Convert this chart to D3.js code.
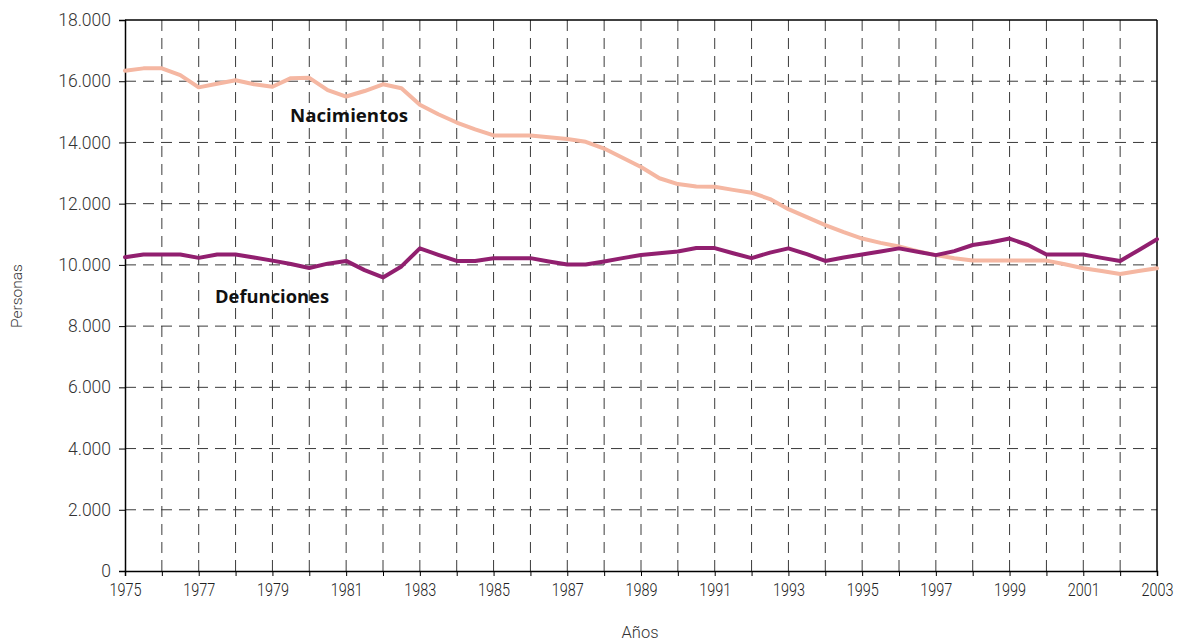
<!DOCTYPE html>
<html>
<head>
<meta charset="utf-8">
<script src="https://cdn.jsdelivr.net/npm/d3@7"></script>
<style>
  html, body { margin: 0; padding: 0; background: #fff; }
  svg { display: block; }
</style>
</head>
<body>
<svg id="chart" width="1186" height="642"></svg>
<script>
// ---------- data ----------
const periods = [
  1975, 1975.5, 1976, 1976.5, 1977, 1977.5, 1978, 1978.5, 1979, 1979.5,
  1980, 1980.5, 1981, 1981.5, 1982, 1982.5, 1983, 1983.5, 1984, 1984.5,
  1985, 1985.5, 1986, 1986.5, 1987, 1987.5, 1988, 1988.5, 1989, 1989.5,
  1990, 1990.5, 1991, 1991.5, 1992, 1992.5, 1993, 1993.5, 1994, 1994.5,
  1995, 1995.5, 1996, 1996.5, 1997, 1997.5, 1998, 1998.5, 1999, 1999.5,
  2000, 2000.5, 2001, 2001.5, 2002, 2002.5, 2003
];
const nacimientos = [
  16340, 16420, 16420, 16200, 15800, 15920, 16030, 15900, 15820, 16100,
  16110, 15710, 15500, 15680, 15900, 15770, 15230, 14920, 14650, 14430,
  14230, 14230, 14230, 14170, 14110, 14020, 13800, 13500, 13200, 12830,
  12640, 12560, 12550, 12450, 12360, 12150, 11820, 11560, 11300, 11070,
  10860, 10720, 10600, 10450, 10320, 10220, 10140, 10140, 10140, 10140,
  10140, 10020, 9890, 9800, 9700, 9800, 9890
];
const defunciones = [
  10250, 10340, 10340, 10340, 10230, 10340, 10340, 10240, 10140, 10030,
  9900, 10040, 10130, 9830, 9590, 9950, 10540, 10330, 10130, 10130,
  10220, 10220, 10220, 10110, 10010, 10010, 10110, 10220, 10320, 10380,
  10440, 10550, 10550, 10380, 10220, 10400, 10540, 10350, 10130, 10240,
  10340, 10440, 10540, 10430, 10320, 10450, 10650, 10740, 10860, 10650,
  10340, 10340, 10340, 10230, 10130, 10480, 10840
];
const yearTicks = [1975, 1976, 1977, 1978, 1979, 1980, 1981, 1982, 1983, 1984,
  1985, 1986, 1987, 1988, 1989, 1990, 1991, 1992, 1993, 1994, 1995, 1996,
  1997, 1998, 1999, 2000, 2001, 2002, 2003];
const yearLabels = [1975, 1977, 1979, 1981, 1983, 1985, 1987, 1989, 1991,
  1993, 1995, 1997, 1999, 2001, 2003];
const valueTicks = [0, 2000, 4000, 6000, 8000, 10000, 12000, 14000, 16000, 18000];
const seriesNames = ["Nacimientos", "Defunciones"];
const axisTitles = { x: "Años", y: "Personas" };

// ---------- layout ----------
const W = 1186, H = 642;
const margin = { left: 125, right: 29, top: 20, bottom: 71 };
const iw = W - margin.left - margin.right;
const ih = H - margin.top - margin.bottom;

const svg = d3.select("#chart");
const g = svg.append("g").attr("transform", `translate(${margin.left},${margin.top})`);

const x = d3.scaleLinear().domain([1975, 2003]).range([0, iw]);
const y = d3.scaleLinear().domain([0, 18000]).range([ih, 0]);

const loc = d3.formatLocale({ decimal: ",", thousands: ".", grouping: [3], currency: ["", ""] });
const fmt = loc.format(",d");

const gridColor = "#3a3a3a";
const lightFont = "Roboto, 'Open Sans', 'Noto Sans', sans-serif";

// gridlines vertical
g.append("g").selectAll("line")
  .data(yearTicks.filter(d => d > 1975 && d < 2003))
  .join("line")
  .attr("x1", d => x(d)).attr("x2", d => x(d))
  .attr("y1", 0).attr("y2", ih)
  .attr("stroke", gridColor).attr("stroke-width", 1)
  .attr("stroke-dasharray", "11,7");

// gridlines horizontal
g.append("g").selectAll("line")
  .data(valueTicks.filter(d => d > 0 && d < 18000))
  .join("line")
  .attr("x1", 0).attr("x2", iw)
  .attr("y1", d => y(d)).attr("y2", d => y(d))
  .attr("stroke", gridColor).attr("stroke-width", 1)
  .attr("stroke-dasharray", "11,7");

// frame top & right
g.append("line").attr("x1", 0).attr("x2", iw).attr("y1", 0).attr("y2", 0)
  .attr("stroke", "#000").attr("stroke-width", 1.5);
g.append("line").attr("x1", iw).attr("x2", iw).attr("y1", 0).attr("y2", ih)
  .attr("stroke", "#000").attr("stroke-width", 1.5);

// axes
const xAxis = d3.axisBottom(x).tickValues(yearTicks).tickSize(5)
  .tickFormat(d => yearLabels.includes(d) ? String(d) : "");
const gx = g.append("g").attr("transform", `translate(0,${ih})`).call(xAxis);
gx.select(".domain").attr("stroke", "#000").attr("stroke-width", 1.5);
gx.selectAll(".tick line").attr("stroke", "#000");
gx.selectAll(".tick text")
  .attr("font-family", lightFont).attr("font-weight", 300)
  .attr("font-size", 19).attr("fill", "#222")
  .attr("dy", "0.9em").attr("y", 8)
  .filter(function () { return this.textContent !== ""; })
  .attr("textLength", 32).attr("lengthAdjust", "spacingAndGlyphs");

const yAxis = d3.axisLeft(y).tickValues(valueTicks).tickSize(6).tickPadding(8)
  .tickFormat(d => fmt(d));
const gy = g.append("g").call(yAxis);
gy.select(".domain").attr("stroke", "#000").attr("stroke-width", 1.5);
gy.selectAll(".tick line").attr("stroke", "#000");
gy.selectAll(".tick text")
  .attr("font-family", lightFont).attr("font-weight", 300)
  .attr("font-size", 17.5).attr("fill", "#333");

// lines
const line = d3.line().x((d, i) => x(periods[i])).y(d => y(d));
g.append("path").datum(nacimientos)
  .attr("fill", "none").attr("stroke", "#f5b7a2").attr("stroke-width", 4)
  .attr("stroke-linejoin", "round").attr("stroke-linecap", "round")
  .attr("d", line);
g.append("path").datum(defunciones)
  .attr("fill", "none").attr("stroke", "#911f6f").attr("stroke-width", 4)
  .attr("stroke-linejoin", "round").attr("stroke-linecap", "round")
  .attr("d", line);

// series labels
const labelFont = "'Open Sans', 'DejaVu Sans', sans-serif";
g.append("text").attr("x", x(1981.08)).attr("y", y(14830))
  .attr("text-anchor", "middle").attr("dominant-baseline", "middle")
  .attr("font-family", labelFont).attr("font-weight", 700).attr("font-size", 17.5)
  .attr("textLength", 118).attr("lengthAdjust", "spacingAndGlyphs")
  .attr("fill", "#111").text(seriesNames[0]);
g.append("text").attr("x", x(1978.99)).attr("y", y(8920))
  .attr("text-anchor", "middle").attr("dominant-baseline", "middle")
  .attr("font-family", labelFont).attr("font-weight", 700).attr("font-size", 17.5)
  .attr("textLength", 114).attr("lengthAdjust", "spacingAndGlyphs")
  .attr("fill", "#111").text(seriesNames[1]);

// axis titles
svg.append("text").attr("x", 640).attr("y", 638)
  .attr("text-anchor", "middle")
  .attr("font-family", lightFont).attr("font-weight", 300).attr("font-size", 16.5)
  .attr("fill", "#333").text(axisTitles.x);
svg.append("text").attr("transform", "translate(22,296) rotate(-90)")
  .attr("text-anchor", "middle")
  .attr("font-family", lightFont).attr("font-weight", 300).attr("font-size", 15.5)
  .attr("fill", "#333").text(axisTitles.y);
</script>
</body>
</html>
